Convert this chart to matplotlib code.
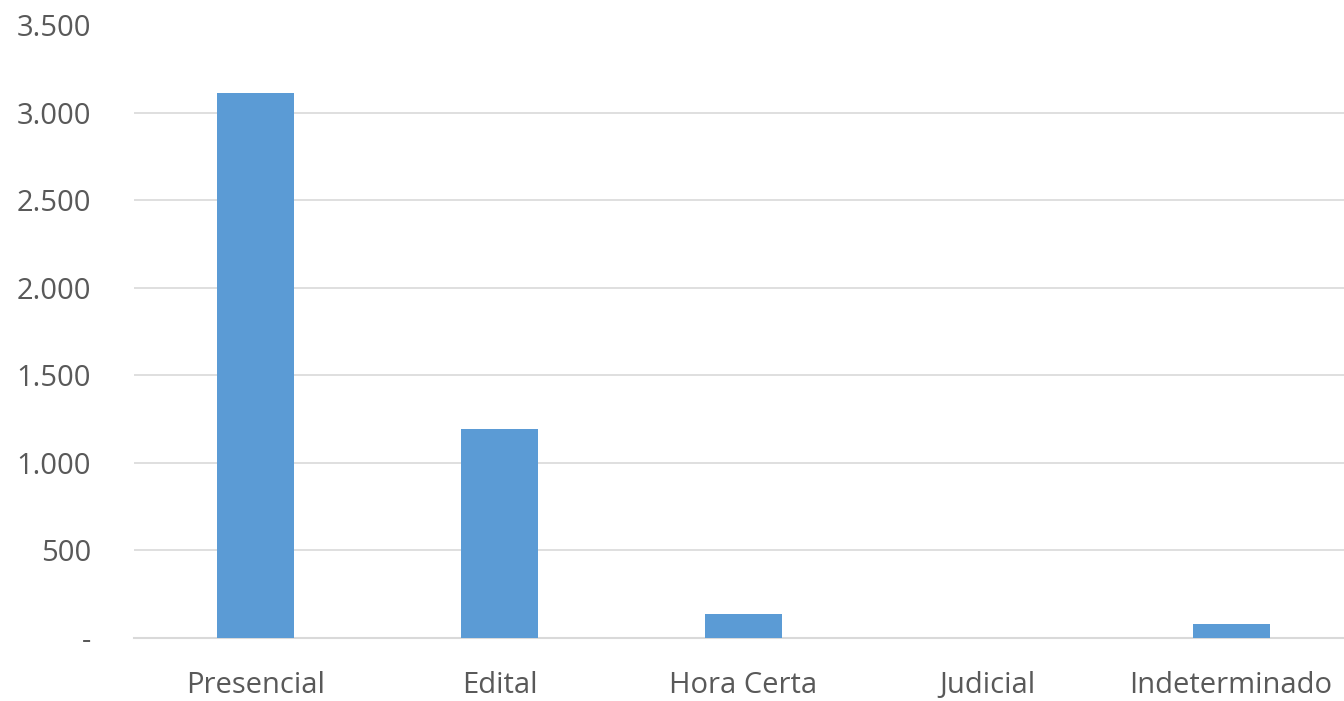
import matplotlib.pyplot as plt
from matplotlib.ticker import FuncFormatter

categories = ['Presencial', 'Edital', 'Hora Certa', 'Judicial', 'Indeterminado']
values = [3115, 1190, 133, 0, 77]
yticks = [0, 500, 1000, 1500, 2000, 2500, 3000, 3500]

plt.rcParams['font.family'] = ['Open Sans', 'DejaVu Sans']

fig = plt.figure(figsize=(13.44, 7.01), dpi=100)
ax = fig.add_axes([134 / 1344, 63.5 / 701, 1219 / 1344, 612 / 701])

x = list(range(len(categories)))
ax.bar(x, values, width=0.316, color='#5B9BD5', zorder=3)

ax.set_xlim(-0.5, len(categories) - 0.5)
ax.set_ylim(0, 3500)
ax.set_yticks(yticks)
ax.set_xticks(x)
ax.set_xticklabels(categories)


def fmt(v, pos):
    if v == 0:
        return '-'
    return '{:,.0f}'.format(v).replace(',', '.')


ax.yaxis.set_major_formatter(FuncFormatter(fmt))
ax.grid(axis='y', color='#d9d9d9', linewidth=1.2, zorder=0)

for s in ['top', 'right', 'left']:
    ax.spines[s].set_visible(False)
ax.spines['bottom'].set_color('#d9d9d9')
ax.spines['bottom'].set_linewidth(1.5)

ax.tick_params(axis='both', length=0, labelsize=21, labelcolor='#595959')
ax.tick_params(axis='y', pad=31)
ax.tick_params(axis='x', pad=40)
for lbl in ax.get_xticklabels():
    lbl.set_verticalalignment('baseline')

plt.savefig('out.png', dpi=100)
